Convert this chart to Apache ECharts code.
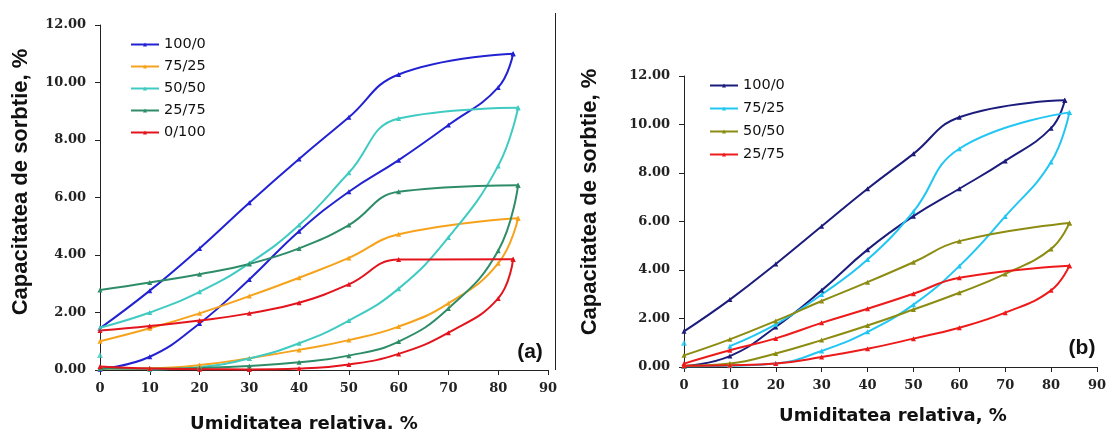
<!DOCTYPE html>
<html>
<head>
<meta charset="utf-8">
<script src="https://cdn.jsdelivr.net/npm/echarts@6.0.0/dist/echarts.min.js"></script>
<style>
  html, body { margin: 0; padding: 0; background: #fff; }
  .wrap { position: relative; width: 1109px; height: 432px; }
  #chartA { position: absolute; left: 0; top: 0; width: 560px; height: 432px; }
  #chartB { position: absolute; left: 560px; top: 0; width: 549px; height: 432px; }
</style>
</head>
<body>
<div class="wrap">
  <div id="chartA"></div>
  <div id="chartB"></div>
</div>
<script>
// axis ticks
const xTicks = { min: 0, max: 90, interval: 10 };
const yTicks = { min: 0, max: 12, interval: 2 };

// (a) sorbtie (sorption, urcare) / desorbtie (coborare), [umiditate %, capacitate %]
const namesA = ['100/0', '75/25', '50/50', '25/75', '0/100'];
const sorpA_100 = [[0, 0.03], [10, 0.46], [20, 1.62], [30, 3.15], [40, 4.83], [50, 6.2], [60, 7.3], [70, 8.52], [80, 9.83], [83, 11.0]];
const desA_100 = [[83, 11.0], [60, 10.28], [50, 8.79], [40, 7.34], [30, 5.82], [20, 4.23], [10, 2.76], [0, 1.45]];
const sorpA_75 = [[0, 0.05], [10, 0.06], [20, 0.17], [30, 0.41], [40, 0.7], [50, 1.04], [60, 1.51], [70, 2.32], [80, 3.71], [84, 5.28]];
const desA_75 = [[84, 5.28], [60, 4.72], [50, 3.9], [40, 3.21], [30, 2.57], [20, 1.97], [10, 1.45], [0, 1.0]];
const sorpA_50 = [[10, 0.02], [20, 0.1], [30, 0.4], [40, 0.93], [50, 1.72], [60, 2.83], [70, 4.61], [80, 7.1], [84, 9.12]];
const extraA_50 = [[0, 0.52]];
const desA_50 = [[84, 9.12], [60, 8.75], [50, 6.86], [40, 5.04], [30, 3.71], [20, 2.72], [10, 2.0], [0, 1.47]];
const sorpA_25 = [[0, 0.05], [10, 0.04], [20, 0.07], [30, 0.14], [40, 0.27], [50, 0.5], [60, 0.99], [70, 2.14], [80, 4.15], [84, 6.43]];
const desA_25 = [[84, 6.43], [60, 6.2], [50, 5.04], [40, 4.23], [30, 3.69], [20, 3.33], [10, 3.04], [0, 2.78]];
const sorpA_0 = [[0, 0.12], [10, 0.05], [20, 0.03], [30, 0.02], [40, 0.05], [50, 0.19], [60, 0.56], [70, 1.3], [80, 2.49], [83, 3.85]];
const desA_0 = [[83, 3.85], [60, 3.84], [50, 2.98], [40, 2.34], [30, 1.97], [20, 1.72], [10, 1.53], [0, 1.37]];

// (b)
const namesB = ['100/0', '75/25', '50/50', '25/75'];
const sorpB_100 = [[0, 0.03], [10, 0.45], [20, 1.65], [30, 3.16], [40, 4.84], [50, 6.22], [60, 7.35], [70, 8.5], [80, 9.85], [83, 11.0]];
const desB_100 = [[83, 11.0], [60, 10.3], [50, 8.79], [40, 7.35], [30, 5.8], [20, 4.25], [10, 2.78], [0, 1.47]];
const sorpB_75 = [[0, 0.03], [10, 0.05], [20, 0.14], [30, 0.66], [40, 1.45], [50, 2.57], [60, 4.16], [70, 6.21], [80, 8.45], [84, 10.5]];
const desB_75 = [[84, 10.5], [60, 9.0], [50, 6.41], [40, 4.43], [30, 2.99], [20, 1.76], [10, 0.86]];
const extraB_75 = [[0, 1.0]];
const sorpB_50 = [[0, 0.05], [10, 0.14], [20, 0.56], [30, 1.11], [40, 1.71], [50, 2.37], [60, 3.06], [70, 3.84], [80, 4.87], [84, 5.94]];
const desB_50 = [[84, 5.94], [60, 5.19], [50, 4.32], [40, 3.5], [30, 2.72], [20, 1.9], [10, 1.14], [0, 0.48]];
const sorpB_25 = [[0, 0.05], [10, 0.07], [20, 0.14], [30, 0.41], [40, 0.75], [50, 1.17], [60, 1.62], [70, 2.24], [80, 3.16], [84, 4.18]];
const desB_25 = [[84, 4.18], [60, 3.68], [50, 3.02], [40, 2.4], [30, 1.82], [20, 1.18], [10, 0.69], [0, 0.14]];

const colorsA = ['#2222d2', '#f7a21b', '#40cbc2', '#2e8d68', '#e3141c'];
const colorsB = ['#1c1c7c', '#22c6f2', '#8c8c12', '#ee1a1a'];

const axisColor = '#222';
const tickFont = { fontFamily: 'DejaVu Serif', fontWeight: 'bold', fontSize: 13, color: '#222' };

const curve = (name, color, data) => ({
	name,
	type: 'line',
	data,
	smooth: 0.45,
	symbol: 'triangle',
	symbolSize: 5,
	lineStyle: { width: 2, color },
	itemStyle: { color },
	emphasis: { disabled: true },
});

const dot = (name, color, data) => ({
	name,
	type: 'scatter',
	data,
	symbol: 'triangle',
	symbolSize: 6,
	itemStyle: { color },
	emphasis: { disabled: true },
});

const baseOption = (grid, legendPos, names, series, texts) => ({
	animation: false,
	grid,
	legend: {
		data: names,
		orient: 'vertical',
		left: legendPos.left,
		top: legendPos.top,
		padding: 0,
		itemWidth: 28,
		itemHeight: 5,
		itemGap: legendPos.gap,
		textStyle: { fontFamily: 'DejaVu Sans', fontSize: 14.5, color: '#111', lineHeight: 14 },
	},
	xAxis: {
		type: 'value',
		...xTicks,
		axisLine: { show: true, lineStyle: { color: axisColor, width: 1 } },
		axisTick: { show: true, length: 5, lineStyle: { color: axisColor } },
		axisLabel: { margin: 12, ...tickFont },
		splitLine: { show: false },
	},
	yAxis: {
		type: 'value',
		...yTicks,
		axisLine: { show: true, lineStyle: { color: axisColor, width: 1 } },
		axisTick: { show: true, length: 5, lineStyle: { color: axisColor } },
		axisLabel: { margin: 14, ...tickFont, formatter: v => v.toFixed(2) },
		splitLine: { show: false },
	},
	graphic: texts,
	series,
});

const titleText = (text, x, y, rotate, size, family) => ({
	type: 'text',
	x,
	y,
	rotation: rotate ? Math.PI / 2 : 0,
	style: {
		text,
		fontFamily: family,
		fontWeight: 'bold',
		fontSize: size,
		fill: '#111',
		align: 'center',
		verticalAlign: 'middle',
	},
});

// (a)
const seriesA = [
	curve(namesA[0], colorsA[0], sorpA_100), curve(namesA[0], colorsA[0], desA_100),
	curve(namesA[1], colorsA[1], sorpA_75), curve(namesA[1], colorsA[1], desA_75),
	curve(namesA[2], colorsA[2], sorpA_50), curve(namesA[2], colorsA[2], desA_50), dot(namesA[2], colorsA[2], extraA_50),
	curve(namesA[3], colorsA[3], sorpA_25), curve(namesA[3], colorsA[3], desA_25),
	curve(namesA[4], colorsA[4], sorpA_0), curve(namesA[4], colorsA[4], desA_0),
];
const chartA = echarts.init(document.getElementById('chartA'));
chartA.setOption(baseOption(
	{ left: 100, right: 5, top: 25, bottom: 62 },
	{ left: 130, top: 37, gap: 7 },
	namesA,
	seriesA,
	[
		titleText('Capacitatea de sorbtie, %', 21, 182, true, 22, 'Liberation Sans'),
		titleText('Umiditatea relativa. %', 304, 424, false, 18, 'DejaVu Sans'),
		titleText('(a)', 530, 352, false, 21, 'Liberation Sans'),
		{ type: 'line', shape: { x1: 555.5, y1: 13, x2: 555.5, y2: 370 }, style: { stroke: axisColor, lineWidth: 1 } },
	]
));

// (b)
const seriesB = [
	curve(namesB[0], colorsB[0], sorpB_100), curve(namesB[0], colorsB[0], desB_100),
	curve(namesB[1], colorsB[1], sorpB_75), curve(namesB[1], colorsB[1], desB_75), dot(namesB[1], colorsB[1], extraB_75),
	curve(namesB[2], colorsB[2], sorpB_50), curve(namesB[2], colorsB[2], desB_50),
	curve(namesB[3], colorsB[3], sorpB_25), curve(namesB[3], colorsB[3], desB_25),
];
const chartB = echarts.init(document.getElementById('chartB'));
chartB.setOption(baseOption(
	{ left: 124, right: 7, top: 76, bottom: 65 },
	{ left: 149, top: 78, gap: 8 },
	namesB,
	seriesB,
	[
		titleText('Capacitatea de sorbtie, %', 30, 202, true, 22, 'Liberation Sans'),
		titleText('Umiditatea relativa, %', 333, 416, false, 18, 'DejaVu Sans'),
		titleText('(b)', 522, 348, false, 21, 'Liberation Sans'),
	]
));
</script>
</body>
</html>
